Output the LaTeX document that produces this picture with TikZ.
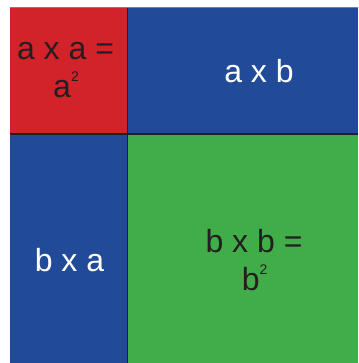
\documentclass[tikz,border=0pt]{standalone}
\usepackage{fontspec}
\setmainfont{Liberation Sans}
\usepackage{xcolor}
\usepackage{tikz}
\usetikzlibrary{positioning}

\definecolor{cellred}{HTML}{D2232A}
\definecolor{cellblue}{HTML}{214B98}
\definecolor{cellgreen}{HTML}{41AD49}
\definecolor{inkdark}{HTML}{231F20}

\newcommand{\squared}{\raisebox{16pt}{\fontsize{14}{14}\selectfont 2}}

\begin{document}
\begin{tikzpicture}[x=1pt, y=1pt,
      cell/.style={rectangle, inner sep=0pt, outer sep=0pt, anchor=north west},
      lbl/.style={inner sep=0pt, anchor=base, font=\fontsize{32}{38}\selectfont},
      dark/.style={lbl, text=inkdark},
      light/.style={lbl, text=white},
      divider/.style={draw=inkdark, line width=1.1pt}]
    \useasboundingbox (0,0) rectangle (358,-363);
    % the four parts of the square
    \node[cell, fill=cellred, minimum width=117.5pt, minimum height=126pt] (aa) at (10,-8) {};
    \node[cell, fill=cellblue, minimum width=230.5pt, minimum height=126pt] (ab) at (aa.north east) {};
    \node[cell, fill=cellblue, minimum width=117.5pt, minimum height=229pt] (ba) at (aa.south west) {};
    \node[cell, fill=cellgreen, minimum width=230.5pt, minimum height=229pt] (bb) at (aa.south east) {};
    % borders
    \draw[draw=gray, line width=1pt] (aa.north west) -- (ab.north east);
    \draw[divider] (aa.north east) -- (ba.south east);
    \draw[divider] (aa.south west) -- (ab.south east);
    % labels
    \node[dark] (aatop) at (65.5,-60) {a x a =};
    \node[dark] (aabot) at (66,-98) {a\squared};
    \node[light] (ablbl) at (259,-82.7) {a x b};
    \node[light] (balbl) at (69.5,-271.7) {b x a};
    \node[dark] (bbtop) at (254,-252.7) {b x b =};
    \node[dark] (bbbot) at (254.7,-290.7) {b\squared};
  \end{tikzpicture}
\end{document}
